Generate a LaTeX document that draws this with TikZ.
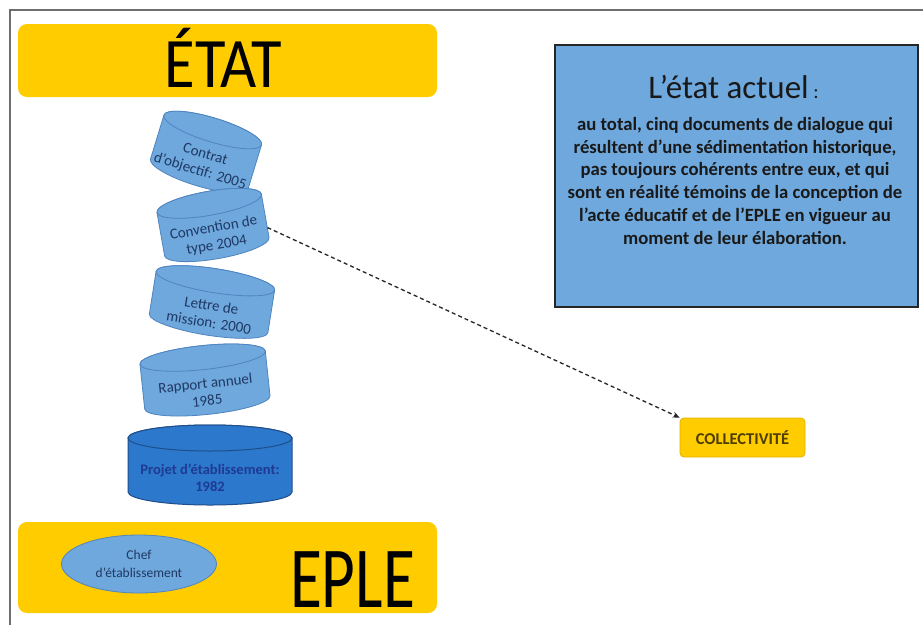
\documentclass[tikz,border=0pt]{standalone}
\usepackage{fontspec}
\setmainfont{Carlito}
\usepackage{graphicx}
\usetikzlibrary{arrows.meta,shapes.geometric}
\definecolor{yel}{HTML}{FFCC00}
\definecolor{yeledge}{HTML}{E3B200}
\definecolor{lblue}{HTML}{6FA8DC}
\definecolor{lbedge}{HTML}{4F84C0}
\definecolor{dblue}{HTML}{2B78CC}
\definecolor{dbedge}{HTML}{1F4E89}
\definecolor{navy}{HTML}{1F3864}
\definecolor{navy2}{HTML}{1F3A93}
\definecolor{framecol}{HTML}{6E6E6E}
\definecolor{colltext}{HTML}{4D3D00}
\newcommand{\docyl}[8]{%
  \begin{scope}[shift={#2}, rotate=#3]
    \path[#7] (-#4pt,#6pt) -- (-#4pt,-#6pt)
      arc[start angle=180,end angle=360,x radius=#4pt,y radius=#5pt]
      -- (#4pt,#6pt)
      arc[start angle=0,end angle=180,x radius=#4pt,y radius=#5pt] -- cycle;
    \path[#7] (0pt,#6pt) ellipse[x radius=#4pt,y radius=#5pt];
    \node[cyltext, minimum width=2*#4pt, minimum height=2*#6pt, transform shape] (#1) at (0pt,-#5pt) {#8};
  \end{scope}}
\begin{document}
\begin{tikzpicture}[x=1pt,y=-1pt,
  banner/.style={fill=yel, rounded corners=9pt, minimum width=419pt, inner sep=0pt},
  cyltext/.style={align=center, inner sep=0pt, text=navy, font=\fontsize{15}{17.5}\selectfont},
  lightcyl/.style={fill=lblue, draw=lbedge, line width=0.8pt},
  darkcyl/.style={fill=dblue, draw=dbedge, line width=1pt},
  link/.style={draw=black!85, line width=1.3pt, dash pattern=on 4pt off 3pt, -{Stealth[length=7pt,width=6pt]}}]
\useasboundingbox (0,0) rectangle (923,625);
\fill[white] (0,0) rectangle (923,625);
\draw[framecol, line width=1.3pt] (10,625) -- (10,10) -- (923,10);
% banners
\node[banner, minimum height=73pt] (etat) at (227.5,60.5) {};
\node[anchor=base, inner sep=0pt] (etatlabel) at (223.5,87) {\scalebox{0.88}[1]{\fontsize{71}{71}\selectfont ÉTAT}};
\node[banner, minimum height=91pt] (eple) at (227.5,567.5) {};
\node[anchor=base, inner sep=0pt] (eplelabel) at (352.5,607) {\scalebox{0.75}[1]{\fontsize{87}{87}\selectfont EPLE}};
\node[ellipse, fill=lblue, draw=lbedge, line width=0.8pt, minimum width=155pt, minimum height=58pt, inner sep=0pt,
      align=center, text=navy, font=\fontsize{13.5}{18}\selectfont] (chef) at (139,564) {Chef\\d’établissement};
% cylinders
\docyl{c1}{(206,152)}{-17}{51}{12}{23}{lightcyl}{Contrat\\d’objectif: 2005}
\docyl{c2}{(213,225)}{10}{53}{12}{22}{lightcyl}{Convention de\\type 2004}
\docyl{c3}{(212,302)}{-9}{60}{12}{21.5}{lightcyl}{Lettre de\\mission: 2000}
\docyl{c4}{(205,380)}{6}{63}{12}{22.5}{lightcyl}{Rapport annuel\\1985}
\docyl{c5}{(210,465)}{0}{82}{13}{27}{darkcyl}{\textcolor{navy2}{\bfseries\fontsize{14.5}{19}\selectfont Projet d’établissement:}\\\textcolor{navy2}{\bfseries\fontsize{14.5}{19}\selectfont 1982}}
% right box
\node[rectangle, fill=lblue, draw=black!85, line width=1.8pt, minimum width=363pt, minimum height=262pt] (actuel) at (736.5,176) {};
\node[anchor=base, inner sep=0pt, text=black!90] (titre) at (733.5,98) {\fontsize{33}{33}\selectfont L’état actuel\fontsize{20}{20}\selectfont\ :};
\node[anchor=north, inner sep=0pt, align=center, text=black!90, font=\bfseries\fontsize{18.7}{22.8}\selectfont] (corps) at (735,117)
 {au total, cinq documents de dialogue qui\\résultent d’une sédimentation historique,\\pas toujours cohérents entre eux, et qui\\sont en réalité témoins de la conception de\\l’acte éducatif et de l’EPLE en vigueur au\\moment de leur élaboration.};
% collectivite
\node[fill=yel, draw=yeledge, line width=0.8pt, rounded corners=4pt, minimum width=125pt, minimum height=39pt, inner sep=0pt,
      text=colltext, font=\bfseries\fontsize{16.5}{16.5}\selectfont] (coll) at (742.5,437.5) {COLLECTIVITÉ};
\draw[link] (c2.east) -- (coll.north west);
\end{tikzpicture}
\end{document}
